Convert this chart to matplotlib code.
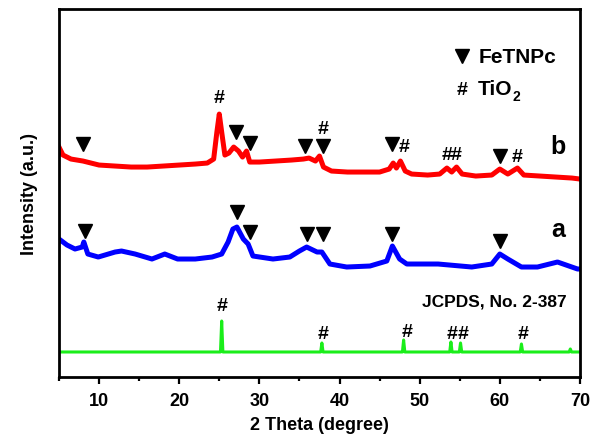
import matplotlib
matplotlib.use('Agg')
import matplotlib.pyplot as plt
from matplotlib.ticker import MultipleLocator

plt.rcParams['font.family'] = ['Liberation Sans', 'DejaVu Sans']
plt.rcParams['font.weight'] = 'bold'

# curve b (red)
b_x = [5.0, 5.5, 6.5, 8.0, 9.0, 10.0, 12.0, 14.0, 16.0, 18.0, 20.0, 22.0, 23.5, 24.3, 24.7, 25.0,
       25.3, 25.7, 26.2, 26.8, 27.4, 27.9, 28.4, 28.8, 30.0, 32.0, 34.0, 35.5, 36.2, 37.0, 37.5,
       38.0, 39.0, 41.0, 43.0, 45.0, 46.2, 46.7, 47.1, 47.6, 48.2, 49.0, 51.0, 52.5, 53.4, 54.0,
       54.6, 55.3, 57.0, 59.0, 60.0, 61.0, 62.2, 63.0, 65.0, 67.0, 69.0, 70.0]
b_y = [230, 222, 218, 216, 214, 212, 211, 210, 210, 211, 212, 213, 214, 218, 245, 263,
       245, 222, 224, 230, 226, 220, 226, 215, 215, 216, 217, 218, 219, 216, 221,
       210, 206, 205, 205, 205, 208, 214, 209, 216, 206, 203, 202, 203, 209, 205,
       210, 203, 201, 202, 208, 203, 209, 202, 201, 200, 199, 198]

# curve a (blue)
a_x = [5.0, 6.0, 7.0, 7.9, 8.1, 8.6, 9.9, 12.0, 12.8, 14.5, 16.6, 18.2, 19.8, 22.0, 24.1, 25.3,
       26.1, 26.7, 27.2, 28.0, 28.6, 29.2, 31.7, 33.8, 35.0, 35.9, 37.2, 37.8, 38.8, 40.9, 43.8,
       45.9, 46.6, 47.5, 48.4, 52.3, 56.5, 59.0, 60.0, 61.0, 62.7, 64.7, 67.2, 69.7, 70.0]
a_y = [138, 132, 128, 130, 135, 123, 120, 125, 126, 123, 118, 123, 118, 118, 120, 123,
       135, 148, 150, 138, 133, 121, 118, 120, 126, 130, 125, 125, 113, 110, 111,
       116, 131, 118, 113, 113, 110, 113, 123, 118, 110, 110, 115, 108, 108]

# JCPDS 2-387 reference pattern (green)
ref_base = 25
ref_peaks = [25.3, 37.8, 48.0, 53.9, 55.1, 62.7, 68.8]
ref_heights = [56, 34, 37, 35, 34, 33, 28]

# peak markers: (x, y)
b_tri = [(8.0, 233), (27.1, 245), (28.8, 234), (35.7, 231), (37.9, 231), (46.6, 233), (60.0, 221)]
b_hash = [(25.0, 280), (37.9, 249), (48.1, 231), (53.4, 223), (54.6, 223), (62.2, 221)]
a_tri = [(8.2, 146), (27.2, 165), (28.8, 145), (36.0, 143), (37.9, 143), (46.6, 143), (60.0, 136)]
ref_hash = [(25.4, 72), (37.9, 43), (48.4, 45), (54.0, 43), (55.4, 43), (62.9, 43)]

ref_x = [5.0]
ref_y = [ref_base]
for p, h in zip(ref_peaks, ref_heights):
    ref_x += [p - 0.15, p, p + 0.15]
    ref_y += [ref_base, h, ref_base]
ref_x.append(70.0)
ref_y.append(ref_base)

fig = plt.figure(figsize=(5.91, 4.39), dpi=100)
ax = fig.add_axes([0.0998, 0.139, 0.8815, 0.838])

ax.plot(ref_x, ref_y, color='#1aee1a', lw=2.2)
ax.plot(a_x, a_y, color='#0000ff', lw=3.6)
ax.plot(b_x, b_y, color='#ff0000', lw=3.6)

for x, y in b_tri + a_tri:
    ax.plot(x, y, marker='v', color='black', markersize=10, linestyle='none')
for x, y in b_hash + ref_hash:
    ax.text(x, y, '#', ha='center', va='center', fontsize=14, fontweight='bold')

ax.text(67.2, 231, 'b', ha='center', va='center', fontsize=18, fontweight='bold')
ax.text(67.3, 148, 'a', ha='center', va='center', fontsize=18, fontweight='bold')
ax.text(68.3, 76, 'JCPDS, No. 2-387', ha='right', va='center', fontsize=12.5, fontweight='bold')

# legend
ax.plot(55.3, 321, marker='v', color='black', markersize=10, linestyle='none')
ax.text(57.3, 321, 'FeTNPc', ha='left', va='center', fontsize=15, fontweight='bold')
ax.text(55.3, 288, '#', ha='center', va='center', fontsize=14, fontweight='bold')
ax.text(57.3, 289, 'TiO', ha='left', va='center', fontsize=15, fontweight='bold')
ax.text(61.6, 281, '2', ha='left', va='center', fontsize=10, fontweight='bold')

ax.set_xlim(5, 70)
ax.set_ylim(0, 368)
ax.xaxis.set_major_locator(MultipleLocator(10))
ax.xaxis.set_minor_locator(MultipleLocator(5))
ax.tick_params(axis='x', which='major', direction='out', length=5, width=1.6, labelsize=13, pad=6)
ax.tick_params(axis='x', which='minor', direction='out', length=3, width=1.6)
ax.set_yticks([])
for lab in ax.get_xticklabels():
    lab.set_fontweight('bold')
for s in ax.spines.values():
    s.set_linewidth(2.0)

ax.set_xlabel('2 Theta (degree)', fontsize=13, fontweight='bold', labelpad=5)
ax.set_ylabel('Intensity (a.u.)', fontsize=13, fontweight='bold', labelpad=15)

fig.savefig('out.png', dpi=100)
